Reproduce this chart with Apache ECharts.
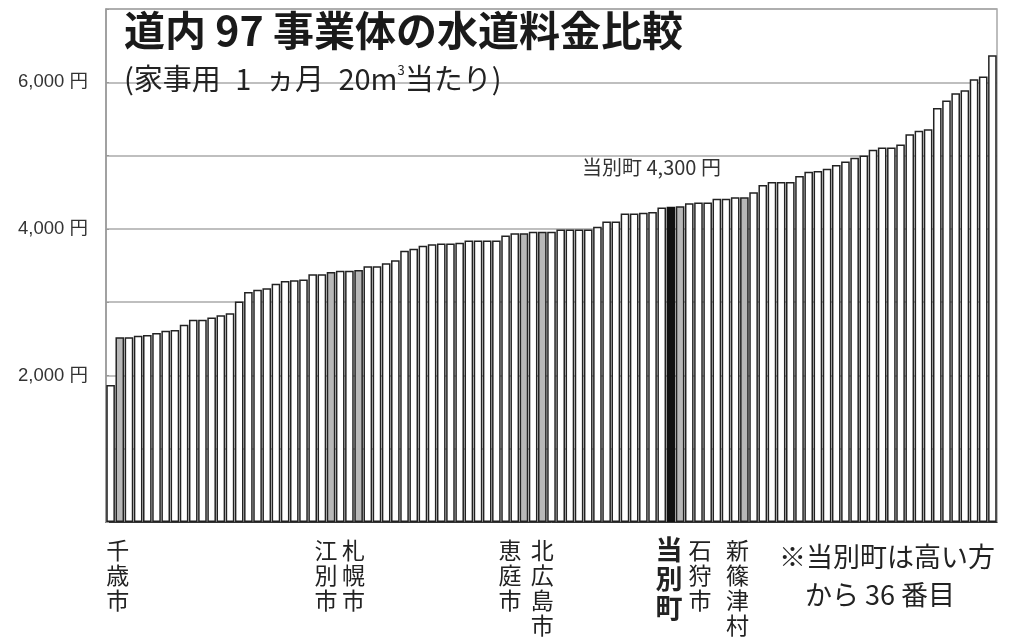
<!DOCTYPE html>
<html><head><meta charset="utf-8">
<script src="https://cdn.jsdelivr.net/npm/echarts@6/dist/echarts.min.js"></script>
<style>html,body{margin:0;padding:0;background:#fff}#c{width:1015px;height:642px}</style>
</head><body><div id="c"></div>
<script>
// 97 utilities, sorted ascending (円, household use 20m³ / month)
const values = [
  1870, 2520, 2520, 2540, 2550, 2580, 2610, 2620, 2690, 2760,
  2760, 2790, 2820, 2850, 3010, 3140, 3170, 3190, 3250, 3290,
  3300, 3310, 3380, 3380, 3410, 3430, 3430, 3440, 3490, 3490,
  3530, 3570, 3700, 3730, 3770, 3790, 3800, 3800, 3810, 3840,
  3840, 3840, 3840, 3910, 3940, 3940, 3960, 3960, 3960, 3990,
  3990, 3990, 3990, 4030, 4100, 4100, 4210, 4210, 4220, 4230,
  4290, 4300, 4310, 4350, 4360, 4360, 4410, 4410, 4430, 4430,
  4500, 4600, 4640, 4640, 4640, 4720, 4780, 4790, 4820, 4870,
  4920, 4970, 5000, 5080, 5110, 5110, 5150, 5290, 5340, 5360,
  5650, 5750, 5850, 5890, 6040, 6080, 6370
];
const categories = values.map((v, i) => String(i + 1));
const namedIdx   = [1, 24, 27, 45, 47, 61, 62, 69];
const namedNames = ['千歳市', '江別市', '札幌市', '恵庭市', '北広島市', '当別町', '石狩市', '新篠津村'];
const focusIdx = 61;
const yTickLabels = { 2000: '2,000 円', 4000: '4,000 円', 6000: '6,000 円' };
const titleText = '道内 97 事業体の水道料金比較';
const noteText = '当別町 4,300 円';
const footLines = ['※当別町は高い方', 'から 36 番目'];

const chart = echarts.init(document.getElementById('c'), null, { renderer: 'canvas' });
const JP = "'Noto Sans CJK JP', sans-serif";
const LAT = "'Liberation Sans', 'Noto Sans CJK JP', sans-serif";

const seriesData = values.map((v, i) => {
  if (i === focusIdx) return { value: v, itemStyle: { color: '#111', borderColor: '#111' } };
  if (namedIdx.includes(i)) return { value: v, itemStyle: { color: '#b8b8b8' } };
  return v;
});

chart.setOption({
  animation: false,
  backgroundColor: '#fff',
  grid: { left: 106, right: 18, top: 9, bottom: 120, show: true, borderColor: '#a8a8a8', borderWidth: 1.5, backgroundColor: 'transparent' },
  xAxis: {
    type: 'category', data: categories,
    axisLine: { show: true, lineStyle: { color: '#333', width: 1 } },
    axisTick: { show: false }, axisLabel: { show: false }
  },
  yAxis: {
    type: 'value', min: 0, max: 7000, interval: 1000,
    axisLine: { show: true, lineStyle: { color: '#999', width: 1.5 } },
    axisTick: { show: true, inside: true, length: 3, lineStyle: { color: '#999' } },
    splitLine: { show: true, lineStyle: { color: '#aaa', width: 1.5 } },
    axisLabel: { margin: 18, color: '#333', fontSize: 18.5, fontFamily: LAT,
      formatter: v => yTickLabels[v] || '' }
  },
  series: [{
    type: 'bar', data: seriesData, barCategoryGap: '6%',
    itemStyle: { color: '#fff', borderColor: '#222', borderWidth: 1.5 },
    z: 2
  }]
});

const labelDx = [-2, -5, -5, -14, 0, -2, 20, -7];
const graphics = [
  { type: 'text', left: 124, top: 10, z: 10, style: { text: titleText, font: `bold 41px ${JP}`, fill: '#1a1a1a' } },
  { type: 'text', left: 124, top: 64, z: 10, style: {
      text: '(家事用\u20021\u2002ヵ月\u200220m{s|3}当たり)', font: `29px ${JP}`, fill: '#222',
      rich: { s: { fontSize: 13, verticalAlign: 'top', padding: [0, 0, 15, 0], fontFamily: JP } } } },
  { type: 'text', left: 582, top: 157, z: 10, style: { text: noteText, font: `20px ${JP}`, fill: '#333' } },
  { type: 'text', left: 779, top: 543, z: 10, style: { text: footLines[0], font: `27px ${JP}`, fill: '#222' } },
  { type: 'text', left: 805, top: 581, z: 10, style: { text: footLines[1], font: `27px ${JP}`, fill: '#222' } }
];
namedIdx.forEach((idx, k) => {
  const x = chart.convertToPixel({ xAxisIndex: 0 }, idx) + labelDx[k];
  const isFocus = idx === focusIdx;
  graphics.push({
    type: 'text', x: x, y: isFocus ? 535 : 538, z: 10,
    style: {
      text: namedNames[k].split('').join('\n'),
      font: isFocus ? `bold 27px ${JP}` : `23px ${JP}`,
      lineHeight: isFocus ? 29 : 25,
      fill: '#222', align: 'center', verticalAlign: 'top'
    }
  });
});
chart.setOption({ graphic: graphics });
</script>
</body></html>
